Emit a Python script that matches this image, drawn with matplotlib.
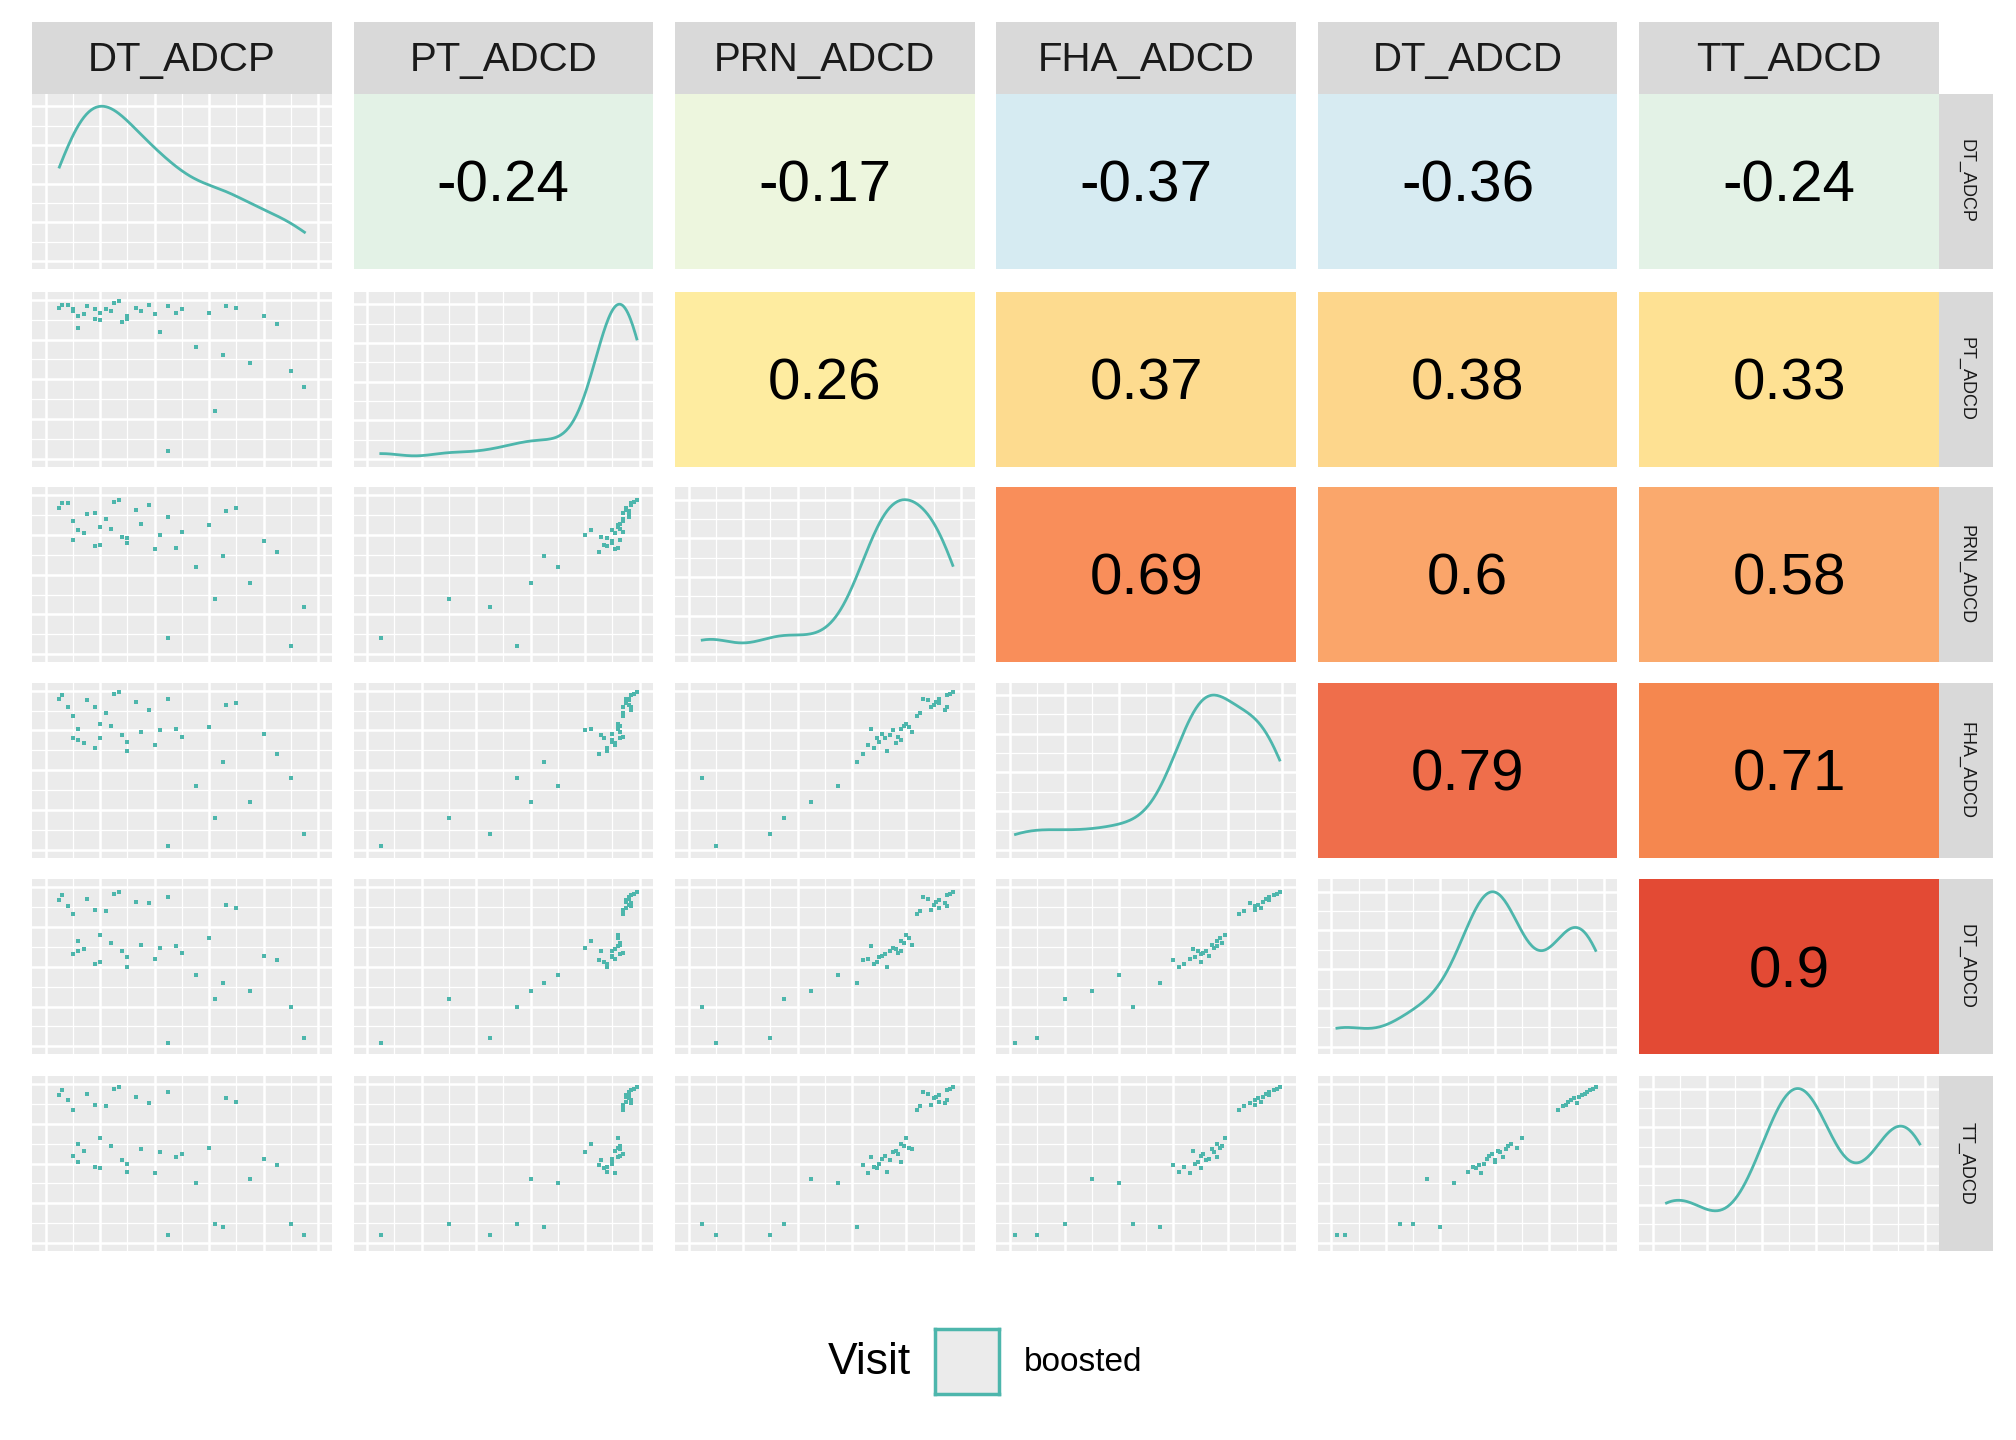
import numpy as np
import matplotlib
matplotlib.use("Agg")
import matplotlib.pyplot as plt

plt.rcParams['font.family'] = ['Liberation Sans', 'DejaVu Sans']

variables = ["DT_ADCP", "PT_ADCD", "PRN_ADCD", "FHA_ADCD", "DT_ADCD", "TT_ADCD"]

DT_ADCP = [0.05,0.08,0.10,0.12,0.15,0.18,0.20,0.22,0.25,0.28,0.30,0.33,0.35,0.38,0.40,0.42,0.45,0.50,0.55,0.60,
           0.65,0.70,0.75,0.80,0.90,0.95,0.06,0.10,0.14,0.20,0.24,0.27,0.30,0.45,0.48,0.62,0.66,0.85,0.12,0.18]
PT_ADCD = [0.95,0.97,0.93,0.82,0.96,0.88,0.92,0.94,0.98,0.86,0.90,0.95,0.93,0.97,0.91,0.80,0.96,0.94,0.70,0.92,
           0.65,0.95,0.60,0.90,0.55,0.45,0.97,0.94,0.91,0.87,0.93,0.99,0.88,0.05,0.92,0.30,0.96,0.85,0.90,0.94]
PRN_ADCD = [0.92,0.95,0.72,0.78,0.88,0.68,0.80,0.85,0.96,0.74,0.70,0.91,0.82,0.94,0.66,0.75,0.86,0.77,0.55,0.81,
            0.62,0.92,0.45,0.71,0.05,0.30,0.95,0.84,0.76,0.69,0.79,0.97,0.73,0.10,0.67,0.35,0.90,0.64,0.78,0.89]
FHA_ADCD = [0.95,0.90,0.70,0.76,0.94,0.64,0.79,0.86,0.98,0.72,0.68,0.93,0.74,0.88,0.66,0.75,0.95,0.71,0.40,0.77,
            0.55,0.92,0.30,0.73,0.45,0.10,0.97,0.84,0.67,0.70,0.78,0.99,0.62,0.02,0.76,0.20,0.91,0.60,0.69,0.90]
DT_ADCD = [0.92,0.88,0.58,0.66,0.93,0.52,0.70,0.85,0.96,0.60,0.56,0.91,0.64,0.90,0.55,0.62,0.94,0.59,0.45,0.68,
           0.40,0.87,0.35,0.57,0.25,0.05,0.95,0.83,0.61,0.53,0.65,0.97,0.50,0.02,0.63,0.30,0.89,0.54,0.60,0.86]
TT_ADCD = [0.93,0.90,0.55,0.62,0.94,0.48,0.66,0.86,0.97,0.52,0.50,0.92,0.59,0.88,0.44,0.57,0.95,0.56,0.38,0.60,
           0.10,0.89,0.40,0.53,0.12,0.05,0.96,0.84,0.58,0.47,0.61,0.98,0.45,0.05,0.54,0.12,0.91,0.49,0.51,0.87]
data = [DT_ADCP, PT_ADCD, PRN_ADCD, FHA_ADCD, DT_ADCD, TT_ADCD]

corr_pairs = [(0,1),(0,2),(0,3),(0,4),(0,5),(1,2),(1,3),(1,4),(1,5),(2,3),(2,4),(2,5),(3,4),(3,5),(4,5)]
corr_vals = [-0.24,-0.17,-0.37,-0.36,-0.24,0.26,0.37,0.38,0.33,0.69,0.6,0.58,0.79,0.71,0.9]
corr_cols = ["#E3F2E6","#EDF6DE","#D6EBF2","#D7EBF2","#E3F2E6","#FEECA0","#FDDB8F","#FDD68B","#FEE193",
             "#F98E5A","#FAA56A","#FAAA6E","#EF6E4B","#F5874F","#E34A34"]

teal = "#4DB6AC"
W, H = 1568.0, 1120.0
fig = plt.figure(figsize=(20.16, 14.4), dpi=100)

colx = [25, 275, 525, 775, 1025, 1275]
pw = 233
rowy = [73, 227, 379, 531, 684, 837]
ph = 136

def fr(x, y, w, h):
    return [x / W, 1 - (y + h) / H, w / W, h / H]

def kde(v, grid):
    v = np.asarray(v)
    bw = 0.8 * 1.06 * v.std() * len(v) ** (-0.2)
    d = np.exp(-0.5 * ((grid[:, None] - v[None, :]) / bw) ** 2).sum(1)
    return d / (len(v) * bw * np.sqrt(2 * np.pi))

def style(ax):
    ax.set_facecolor("#EBEBEB")
    for s in ax.spines.values():
        s.set_visible(False)
    ax.tick_params(which="both", length=0, labelbottom=False, labelleft=False)
    ax.grid(which="major", color="white", lw=1.8)
    ax.grid(which="minor", color="white", lw=0.9)
    ax.set_axisbelow(True)

for i in range(6):
    for j in range(6):
        ax = fig.add_axes(fr(colx[j], rowy[i], pw, ph))
        if j > i:
            k = corr_pairs.index((i, j))
            ax.set_facecolor(corr_cols[k])
            for s in ax.spines.values():
                s.set_visible(False)
            ax.set_xticks([]); ax.set_yticks([])
            ax.text(0.5, 0.47, f"{corr_vals[k]:g}", ha="center", va="center",
                    fontsize=42, transform=ax.transAxes)
            continue
        style(ax)
        x = np.asarray(data[j])
        ax.set_xlim(-0.05, 1.05)
        ax.set_xticks(np.arange(0, 1.01, 0.2))
        ax.set_xticks(np.arange(0.1, 1, 0.2), minor=True)
        if i == j:
            g = np.linspace(x.min(), x.max(), 200)
            d = kde(x, g)
            ax.plot(g, d, color=teal, lw=2)
            ax.set_ylim(-0.05 * d.max(), d.max() * 1.08)
            yt = np.linspace(0, d.max(), 5)
            ax.set_yticks(yt)
            ax.set_yticks((yt[:-1] + yt[1:]) / 2, minor=True)
        else:
            y = np.asarray(data[i])
            ax.scatter(x, y, s=7, marker="s", color=teal, lw=0)
            ax.set_ylim(-0.05, 1.05)
            ax.set_yticks(np.arange(0, 1.01, 0.25))
            ax.set_yticks(np.arange(0.125, 1, 0.25), minor=True)

for j in range(6):
    ax = fig.add_axes(fr(colx[j], 17, pw, 56))
    ax.set_facecolor("#D9D9D9")
    ax.set_xticks([]); ax.set_yticks([])
    for s in ax.spines.values():
        s.set_visible(False)
    ax.text(0.5, 0.47, variables[j], ha="center", va="center", fontsize=29, color="#1A1A1A")
for i in range(6):
    ax = fig.add_axes(fr(1508, rowy[i], 42, ph))
    ax.set_facecolor("#D9D9D9")
    ax.set_xticks([]); ax.set_yticks([])
    for s in ax.spines.values():
        s.set_visible(False)
    ax.text(0.5, 0.5, variables[i], ha="center", va="center", fontsize=13,
            rotation=-90, color="#1A1A1A")

fig.text(676 / W, 1 - 1060 / H, "Visit", ha="center", va="center", fontsize=32)
lax = fig.add_axes(fr(727, 1034, 50, 50))
lax.set_xticks([]); lax.set_yticks([])
lax.set_facecolor("#EBEBEB")
for s in lax.spines.values():
    s.set_color(teal); s.set_linewidth(2.5)
fig.text(796 / W, 1 - 1060 / H, "boosted", ha="left", va="center", fontsize=24)

fig.savefig("out.png", dpi=100)
